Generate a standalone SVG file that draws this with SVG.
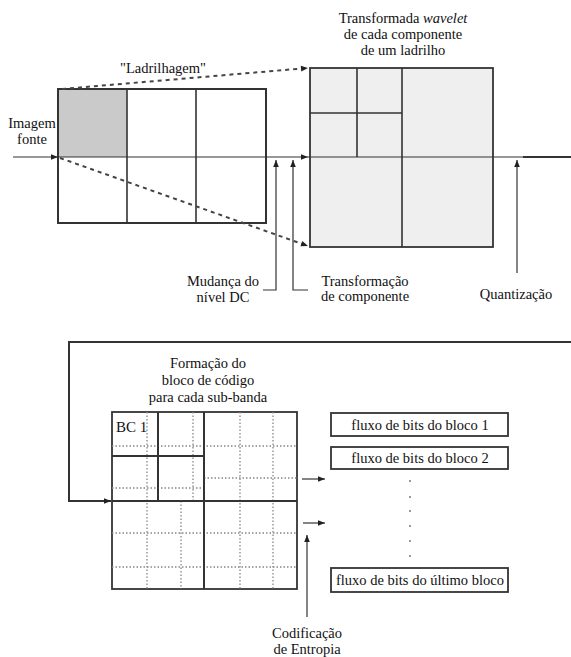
<svg xmlns="http://www.w3.org/2000/svg" width="571" height="657" viewBox="0 0 571 657" font-family="'Liberation Serif', serif">
<defs>
<marker id="ah" viewBox="0 0 10 10" refX="10" refY="5" markerWidth="9" markerHeight="7" markerUnits="userSpaceOnUse" orient="auto">
<path d="M0,1 L10,5 L0,9 z" fill="#222"/>
</marker>
</defs>
<style>
text{font-family:'Liberation Serif',serif;font-size:14.5px;fill:#111}
.c{text-anchor:middle}
.thick{fill:none;stroke:#333;stroke-width:2}
.mid{fill:none;stroke:#333;stroke-width:1.6}
.thin{fill:none;stroke:#333;stroke-width:1.2}
.dash{fill:none;stroke:#444;stroke-width:2;stroke-dasharray:4 4}
.dot{fill:none;stroke:#888;stroke-width:1.3;stroke-dasharray:1.5 2}
.box{fill:#fff;stroke:#333;stroke-width:1.8}
</style>
<rect width="571" height="657" fill="#fff"/>

<g id="tiling">
<rect x="58" y="89" width="69" height="68" fill="#cacaca"/>
<rect class="thick" x="58" y="89" width="208" height="134"/>
<line class="mid" x1="127" y1="89" x2="127" y2="223"/>
<line class="mid" x1="196" y1="89" x2="196" y2="223"/>
<text class="c" x="163" y="73">"Ladrilhagem"</text>
</g>

<g id="source">
<text class="c" x="32" y="128">Imagem</text>
<text class="c" x="32" y="144">fonte</text>
</g>

<g id="wavelet">
<rect x="310" y="68" width="183" height="179" fill="#efefef" stroke="#333" stroke-width="1.8"/>
<line class="mid" x1="402" y1="68" x2="402" y2="247"/>
<line class="mid" x1="357" y1="68" x2="357" y2="157"/>
<line class="mid" x1="310" y1="113" x2="402" y2="113"/>
<text class="c" x="403" y="23">Transformada <tspan font-style="italic">wavelet</tspan></text>
<text class="c" x="403" y="39">de cada componente</text>
<text class="c" x="403" y="55">de um ladrilho</text>
</g>

<g id="labels-top">
<text class="c" x="223" y="286">Mudança do</text>
<text class="c" x="223" y="302">nível DC</text>
<text class="c" x="365" y="286">Transformação</text>
<text class="c" x="365" y="301">de componente</text>
<text class="c" x="516" y="299">Quantização</text>
</g>

<g id="codeblocks">
<rect class="box" x="112" y="412" width="185" height="177"/>
<line class="dot" x1="112" y1="446" x2="297" y2="446"/>
<line class="dot" x1="112" y1="488" x2="204" y2="488"/>
<line class="dot" x1="204" y1="478" x2="297" y2="478"/>
<line class="dot" x1="112" y1="533" x2="297" y2="533"/>
<line class="dot" x1="112" y1="567" x2="297" y2="567"/>
<line class="dot" x1="147" y1="412" x2="147" y2="589"/>
<line class="dot" x1="193" y1="412" x2="193" y2="501"/>
<line class="dot" x1="181" y1="501" x2="181" y2="589"/>
<line class="dot" x1="240" y1="412" x2="240" y2="589"/>
<line class="dot" x1="273" y1="412" x2="273" y2="589"/>
<line class="thick" x1="204" y1="412" x2="204" y2="589"/>
<line class="thick" x1="112" y1="501" x2="297" y2="501"/>
<line class="thick" x1="158" y1="412" x2="158" y2="501"/>
<line class="thick" x1="112" y1="456" x2="204" y2="456"/>
<text x="116" y="432" style="font-size:15px">BC 1</text>
<text class="c" x="208" y="368">Formação do</text>
<text class="c" x="208" y="385">bloco de código</text>
<text class="c" x="208" y="402">para cada sub-banda</text>
</g>

<g id="streams">
<rect class="box" x="331" y="413" width="177" height="23"/>
<text class="c" x="420" y="430">fluxo de bits do bloco 1</text>
<rect class="box" x="331" y="447" width="177" height="22"/>
<text class="c" x="420" y="463">fluxo de bits do bloco 2</text>
<rect class="box" x="331" y="568" width="177" height="24"/>
<text class="c" x="420" y="585">fluxo de bits do último bloco</text>
<g fill="#777">
<circle cx="410" cy="481" r="1"/>
<circle cx="410" cy="497" r="1"/>
<circle cx="410" cy="511" r="1"/>
<circle cx="410" cy="526" r="1"/>
<circle cx="410" cy="541" r="1"/>
<circle cx="410" cy="556" r="1"/>
</g>
</g>

<g id="entropy">
<text class="c" x="307" y="638">Codificação</text>
<text class="c" x="307" y="654">de Entropia</text>
</g>

<g id="connectors">
<line class="thin" x1="13" y1="157" x2="58" y2="157" marker-end="url(#ah)"/>
<line class="thin" x1="58" y1="157" x2="308" y2="157" marker-end="url(#ah)"/>
<line class="thin" x1="308" y1="157" x2="523" y2="157"/>
<line class="thick" x1="523" y1="157" x2="571" y2="157"/>
<line class="dash" x1="62" y1="89" x2="308" y2="68" marker-end="url(#ah)"/>
<line class="dash" x1="60" y1="158" x2="308" y2="246" marker-end="url(#ah)"/>
<polyline class="thin" points="263,290 276,290 276,160" marker-end="url(#ah)"/>
<polyline class="thin" points="308,290 293,290 293,160" marker-end="url(#ah)"/>
<line class="thin" x1="517" y1="273" x2="517" y2="160" marker-end="url(#ah)"/>
<polyline class="thick" points="571,342 69,342 69,501 111,501" marker-end="url(#ah)"/>
<line class="thin" x1="302" y1="479" x2="325" y2="479" marker-end="url(#ah)"/>
<line class="thin" x1="303" y1="523" x2="325" y2="523" marker-end="url(#ah)"/>
<line class="thin" x1="307" y1="617" x2="307" y2="535" marker-end="url(#ah)"/>
</g>
</svg>
